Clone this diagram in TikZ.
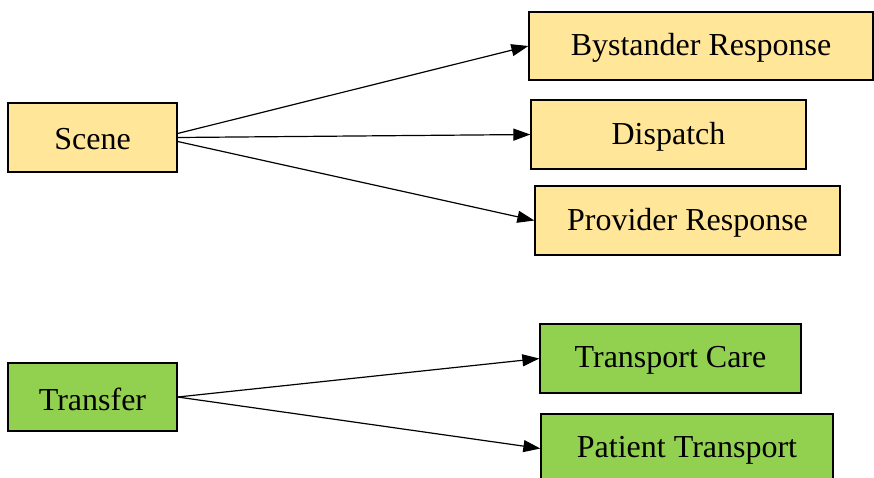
\documentclass[tikz,border=0pt]{standalone}
\usepackage{fontspec}
\setmainfont{Liberation Serif}
\usetikzlibrary{arrows.meta}
\definecolor{boxyellow}{HTML}{FFE699}
\definecolor{boxgreen}{HTML}{92D050}
% box label set slightly below the centre line, keeping its box size
\newcommand{\boxlabel}[1]{\raisebox{-2pt}[\height][\depth]{#1}}
\begin{document}
\begin{tikzpicture}[x=1pt,y=-1pt,
  box/.style={draw=black, line width=1.3pt, inner sep=0pt,
    font=\fontsize{32}{37}\selectfont, text=black},
  ybox/.style={box, fill=boxyellow},
  gbox/.style={box, fill=boxgreen},
  link/.style={draw=black, line width=1.2pt,
    -{Triangle[length=17pt,width=12pt]}}]
\useasboundingbox (0,0) rectangle (874,477);
\clip (0,0) rectangle (874,477);

% upper group
\node[ybox, minimum width=169pt, minimum height=69pt] (scene) at (92.5,137.5) {\boxlabel{Scene}};
\node[ybox, minimum width=344pt, minimum height=68pt] (bystander) at (701,46) {\boxlabel{Bystander Response}};
\node[ybox, minimum width=275pt, minimum height=69pt] (dispatch) at (668.5,134.5) {\boxlabel{Dispatch}};
\node[ybox, minimum width=305pt, minimum height=69pt] (provider) at (687.5,220.5) {\boxlabel{Provider Response}};

% lower group
\node[gbox, minimum width=169pt, minimum height=68pt] (transfer) at (92.5,397) {\boxlabel{Transfer}};
\node[gbox, minimum width=261pt, minimum height=69pt] (care) at (670.5,358.5) {\boxlabel{Transport Care}};
\node[gbox, minimum width=292pt, minimum height=69pt] (patient) at (687,448.5) {\boxlabel{Patient Transport}};

% connectors
\draw[link] ([yshift=4pt]scene.east) -- (bystander.west);
\draw[link] (scene.east) -- (dispatch.west);
\draw[link] ([yshift=-4pt]scene.east) -- (provider.west);
\draw[link] (transfer.east) -- (care.west);
\draw[link] (transfer.east) -- (patient.west);
\end{tikzpicture}
\end{document}
